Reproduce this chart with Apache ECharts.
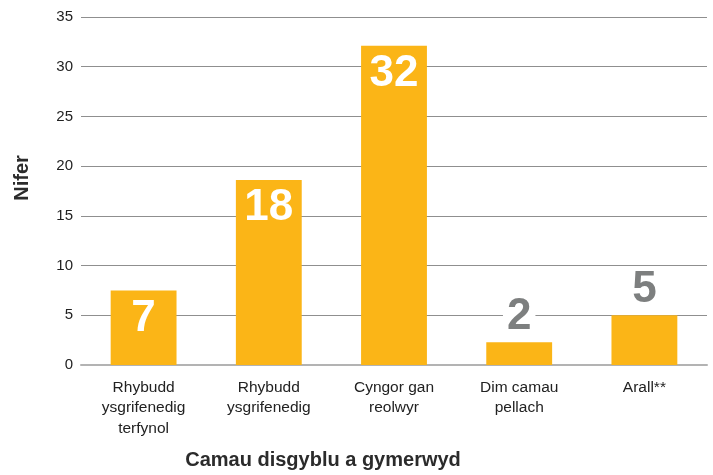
<!DOCTYPE html>
<html>
<head>
<meta charset="utf-8">
<script src="https://cdn.jsdelivr.net/npm/echarts@6/dist/echarts.min.js"></script>
<style>html,body{margin:0;padding:0;background:#fff}#c{width:713px;height:475px}</style>
</head>
<body>
<div id="c"></div>
<script>
var categories = ['Rhybudd\nysgrifenedig\nterfynol', 'Rhybudd\nysgrifenedig', 'Cyngor gan\nreolwyr', 'Dim camau\npellach', 'Arall**'];
var values = [7.5, 18.6, 32.1, 2.3, 5];
var valueLabels = ['7', '18', '32', '2', '5'];
var insideLabel = [true, true, true, false, false];
var yTicks = { min: 0, max: 35, interval: 5 };

var FONT = '"Liberation Sans", Arial, Helvetica, sans-serif';
var chart = echarts.init(document.getElementById('c'), null, { renderer: 'canvas' });

var data = values.map(function (v, i) {
  var inside = insideLabel[i];
  return {
    value: v,
    label: inside ? {
      position: 'insideTop', distance: 6, color: '#ffffff'
    } : {
      position: 'top', distance: 3, color: '#7d7f7f',
      backgroundColor: '#ffffff', padding: [0, 4, 0, 4]
    }
  };
});

chart.setOption({
  animation: false,
  grid: { left: 81, right: 6, top: 17, bottom: 106, containLabel: false },
  xAxis: {
    type: 'category',
    data: categories,
    name: 'Camau disgyblu a gymerwyd',
    nameLocation: 'middle',
    nameGap: 85,
    nameTextStyle: { fontFamily: FONT, fontSize: 20, fontWeight: 'bold', color: '#2b2b2b', padding: [0, 142, 0, 0] },
    axisTick: { show: false },
    axisLine: { show: true, lineStyle: { color: '#b3b3b3', width: 2 } },
    axisLabel: { fontFamily: FONT, fontSize: 15.5, color: '#222', lineHeight: 20.5, margin: 12, interval: 0 }
  },
  yAxis: {
    type: 'value',
    min: yTicks.min, max: yTicks.max, interval: yTicks.interval,
    name: 'Nifer',
    nameLocation: 'middle',
    nameGap: 49,
    nameTextStyle: { fontFamily: FONT, fontSize: 20, fontWeight: 'bold', color: '#2b2b2b', padding: [0, 0, 0, 26] },
    axisLine: { show: false },
    axisTick: { show: false },
    axisLabel: { fontFamily: FONT, fontSize: 15, color: '#222', margin: 8 },
    splitLine: { show: true, lineStyle: { color: '#8f8f8f', width: 1 } }
  },
  series: [{
    type: 'bar',
    data: data,
    barWidth: '52.6%',
    itemStyle: { color: '#FBB517' },
    label: {
      show: true,
      fontFamily: FONT,
      fontSize: 44,
      fontWeight: 'bold',
      formatter: function (p) { return valueLabels[p.dataIndex]; }
    }
  }]
});
</script>
</body>
</html>
